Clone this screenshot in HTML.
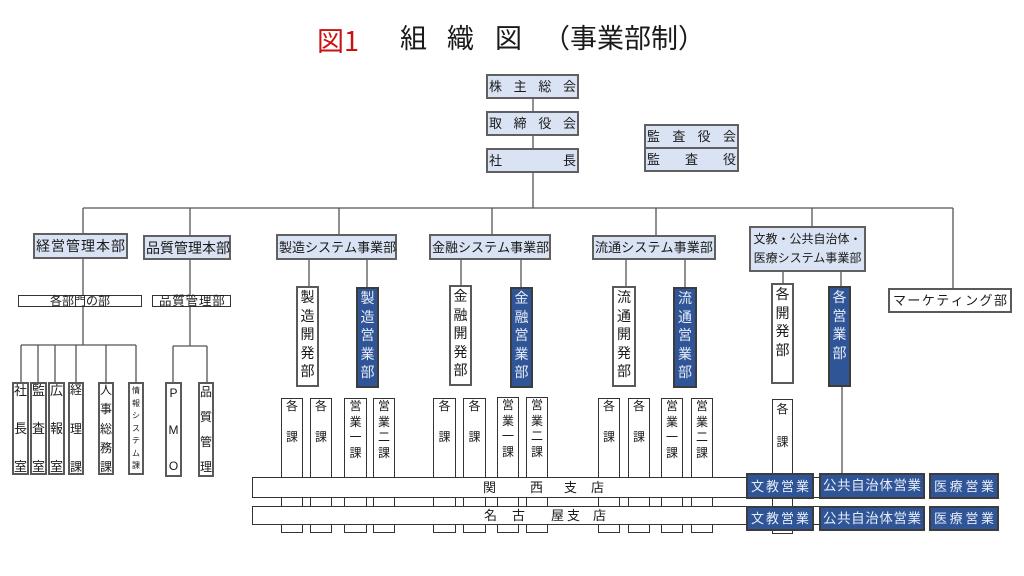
<!DOCTYPE html>
<html><head><meta charset="utf-8">
<style>
*{margin:0;padding:0}
body{width:1024px;height:576px;position:relative;overflow:hidden;background:#fff;font-family:"Liberation Sans","Noto Sans CJK JP",sans-serif;color:#1a1a1a}
.b{position:absolute;box-sizing:border-box}
.L{background:#dae3f3;border:2px solid #606060}
.W{background:#fff;border:2px solid #5a5a5a}
.T{background:#fff;border:1px solid #333}
.B{background:#2f5597;border:2px solid #3c3c3c;color:#e6ecf8}
.h{display:flex;justify-content:space-between;align-items:center;padding:0 1px;font-size:13px;line-height:1}
.v{display:flex;flex-direction:column;align-items:center;justify-content:space-between;font-size:13px;line-height:1;padding:0}
.s{display:flex;flex-direction:column;align-items:center;font-size:14px;line-height:18.6px}
.k{display:flex;flex-direction:column;align-items:center;font-size:12px;line-height:15.5px}
.t{position:absolute;font-size:27px;line-height:1;white-space:nowrap}
.c{position:absolute;font-size:13px;line-height:13px}
</style></head><body>

<div class="t" style="left:317px;top:26px;color:#cc1111">図<span style="font-family:'Noto Sans CJK JP',sans-serif">1</span></div>
<div class="t" style="left:400px;top:26px">組</div>
<div class="t" style="left:447px;top:26px">織</div>
<div class="t" style="left:495px;top:26px">図</div>
<div class="t" style="left:543px;top:26px">（事業部制）</div>

<svg class="b" style="left:0;top:0" width="1024" height="576">
<g stroke="#555" stroke-width="1.3" fill="none">
<path d="M533 99V111M533 136V148M533 173V208"/>
<path d="M83 208H953"/>
<path d="M83 208V233M190 208V235M339 208V234M492 208V234M656 208V235M812 208V226M953 208V288"/>
<path d="M83 259V345M21 345H136M21 345V382M38 345V382M55 345V382M76 345V382M106 345V382M136 345V382"/>
<path d="M190 260V346M173 346H207M173 346V382M207 346V382"/>
<path d="M309 260V286M367 260V287M461 260V285M521 260V287M626 260V286M685 260V287M783 272V283M841 272V286M842 387V473"/>
</g></svg>

<!-- top -->
<div class="b L h" style="left:486px;top:74px;width:93px;height:25px"><span>株</span><span>主</span><span>総</span><span>会</span></div>
<div class="b L h" style="left:486px;top:111px;width:93px;height:25px"><span>取</span><span>締</span><span>役</span><span>会</span></div>
<div class="b L h" style="left:486px;top:148px;width:93px;height:25px"><span>社</span><span>長</span></div>
<div class="b L h" style="left:644px;top:124px;width:95px;height:25px"><span>監</span><span>査</span><span>役</span><span>会</span></div>
<div class="b L h" style="left:644px;top:147px;width:95px;height:25px"><span>監</span><span>査</span><span>役</span></div>

<!-- divisions -->
<div class="b L h" style="left:33px;top:233px;width:95px;height:26px;font-size:14px"><span>経</span><span>営</span><span>管</span><span>理</span><span>本</span><span>部</span></div>
<div class="b L h" style="left:143px;top:235px;width:88px;height:25px;font-size:14px"><span>品</span><span>質</span><span>管</span><span>理</span><span>本</span><span>部</span></div>
<div class="b L h" style="left:276px;top:234px;width:121px;height:26px"><span>製</span><span>造</span><span>シ</span><span>ス</span><span>テ</span><span>ム</span><span>事</span><span>業</span><span>部</span></div>
<div class="b L h" style="left:429px;top:234px;width:122px;height:26px"><span>金</span><span>融</span><span>シ</span><span>ス</span><span>テ</span><span>ム</span><span>事</span><span>業</span><span>部</span></div>
<div class="b L h" style="left:592px;top:235px;width:124px;height:25px"><span>流</span><span>通</span><span>シ</span><span>ス</span><span>テ</span><span>ム</span><span>事</span><span>業</span><span>部</span></div>
<div class="b L" style="left:749px;top:226px;width:117px;height:46px;display:flex;flex-direction:column;align-items:center;justify-content:center;font-size:12px;line-height:19px;white-space:nowrap"><div>文教・公共自治体・</div><div>医療システム事業部</div></div>

<div class="b W h" style="left:888px;top:288px;width:124px;height:25px;padding:0 3px"><span>マ</span><span>ー</span><span>ケ</span><span>テ</span><span>ィ</span><span>ン</span><span>グ</span><span>部</span></div>

<!-- left sub -->
<div class="b T" style="left:18px;top:295px;width:124px;height:12px;display:flex;align-items:center;justify-content:center;font-size:12px;line-height:10px;white-space:nowrap">各部門の部</div>
<div class="b T" style="left:152px;top:295px;width:79px;height:12px;display:flex;align-items:center;padding-left:6px;font-size:12.5px;letter-spacing:0.8px;line-height:10px;white-space:nowrap">品質管理部</div>

<div class="b W v" style="left:12px;top:382px;width:17px;height:93px"><span>社</span><span>長</span><span>室</span></div>
<div class="b W v" style="left:30px;top:382px;width:17px;height:93px"><span>監</span><span>査</span><span>室</span></div>
<div class="b W v" style="left:48px;top:382px;width:17px;height:93px"><span>広</span><span>報</span><span>室</span></div>
<div class="b W v" style="left:68px;top:382px;width:16px;height:93px;font-size:12px"><span>経</span><span>理</span><span>課</span></div>
<div class="b W v" style="left:98px;top:382px;width:16px;height:93px;font-size:12px"><span>人</span><span>事</span><span>総</span><span>務</span><span>課</span></div>
<div class="b W v" style="left:128px;top:382px;width:16px;height:93px;font-size:8px;padding:3px 0"><span>情</span><span>報</span><span>シ</span><span>ス</span><span>テ</span><span>ム</span><span>課</span></div>
<div class="b W v" style="left:165px;top:382px;width:17px;height:95px;font-size:12px;padding:3px 0"><span>P</span><span>M</span><span>O</span></div>
<div class="b W v" style="left:198px;top:382px;width:16px;height:95px;font-size:12px;padding:2px 0"><span>品</span><span>質</span><span>管</span><span>理</span></div>

<!-- dev / sales -->
<div class="b W s" style="left:296px;top:286px;width:23px;height:101px"><span>製</span><span>造</span><span>開</span><span>発</span><span>部</span></div>
<div class="b B s" style="left:356px;top:287px;width:23px;height:101px"><span>製</span><span>造</span><span>営</span><span>業</span><span>部</span></div>
<div class="b W s" style="left:449px;top:285px;width:23px;height:101px"><span>金</span><span>融</span><span>開</span><span>発</span><span>部</span></div>
<div class="b B s" style="left:510px;top:287px;width:23px;height:101px"><span>金</span><span>融</span><span>営</span><span>業</span><span>部</span></div>
<div class="b W s" style="left:612px;top:286px;width:24px;height:101px"><span>流</span><span>通</span><span>開</span><span>発</span><span>部</span></div>
<div class="b B s" style="left:673px;top:287px;width:24px;height:101px"><span>流</span><span>通</span><span>営</span><span>業</span><span>部</span></div>
<div class="b W s" style="left:771px;top:283px;width:23px;height:101px"><span>各</span><span>開</span><span>発</span><span>部</span></div>
<div class="b B s" style="left:828px;top:286px;width:23px;height:101px"><span>各</span><span>営</span><span>業</span><span>部</span></div>

<!-- sections -->
<div class="b T k" style="left:281px;top:398px;width:22px;height:135px"><span>各</span><span>　</span><span>課</span></div>
<div class="b T k" style="left:310px;top:398px;width:22px;height:135px"><span>各</span><span>　</span><span>課</span></div>
<div class="b T k" style="left:344px;top:398px;width:23px;height:135px"><span>営</span><span>業</span><span>一</span><span>課</span></div>
<div class="b T k" style="left:373px;top:398px;width:22px;height:135px"><span>営</span><span>業</span><span>二</span><span>課</span></div>
<div class="b T k" style="left:433px;top:398px;width:23px;height:135px"><span>各</span><span>　</span><span>課</span></div>
<div class="b T k" style="left:463px;top:398px;width:23px;height:135px"><span>各</span><span>　</span><span>課</span></div>
<div class="b T k" style="left:497px;top:397px;width:22px;height:136px"><span>営</span><span>業</span><span>一</span><span>課</span></div>
<div class="b T k" style="left:526px;top:397px;width:22px;height:136px"><span>営</span><span>業</span><span>二</span><span>課</span></div>
<div class="b T k" style="left:598px;top:398px;width:22px;height:135px"><span>各</span><span>　</span><span>課</span></div>
<div class="b T k" style="left:628px;top:398px;width:22px;height:135px"><span>各</span><span>　</span><span>課</span></div>
<div class="b T k" style="left:661px;top:398px;width:22px;height:135px"><span>営</span><span>業</span><span>一</span><span>課</span></div>
<div class="b T k" style="left:691px;top:398px;width:22px;height:135px"><span>営</span><span>業</span><span>二</span><span>課</span></div>
<div class="b T k" style="left:772px;top:399px;width:21px;height:135px;line-height:16.5px;padding-top:1px"><span>各</span><span>　</span><span>課</span></div>

<!-- branch bars -->
<div class="b T" style="left:252px;top:477px;width:578px;height:21px"></div>
<div class="b T" style="left:252px;top:506px;width:588px;height:19px"></div>
<div class="c" style="left:483px;top:481px">関</div>
<div class="c" style="left:530px;top:481px">西</div>
<div class="c" style="left:564px;top:481px">支</div>
<div class="c" style="left:591px;top:481px">店</div>
<div class="c" style="left:484px;top:509px">名</div>
<div class="c" style="left:512px;top:509px">古</div>
<div class="c" style="left:551px;top:509px">屋</div>
<div class="c" style="left:567px;top:509px">支</div>
<div class="c" style="left:593px;top:509px">店</div>

<!-- blue sales boxes -->
<div class="b B h" style="left:746px;top:473px;width:68px;height:26px;font-size:13px;padding:0 3px"><span>文</span><span>教</span><span>営</span><span>業</span></div>
<div class="b B h" style="left:819px;top:473px;width:106px;height:26px;font-size:13.5px;padding:0 2px"><span>公</span><span>共</span><span>自</span><span>治</span><span>体</span><span>営</span><span>業</span></div>
<div class="b B h" style="left:929px;top:473px;width:70px;height:26px;font-size:13px;padding:0 3px"><span>医</span><span>療</span><span>営</span><span>業</span></div>
<div class="b B h" style="left:746px;top:506px;width:68px;height:25px;font-size:13px;padding:0 3px"><span>文</span><span>教</span><span>営</span><span>業</span></div>
<div class="b B h" style="left:819px;top:506px;width:106px;height:25px;font-size:13.5px;padding:0 2px"><span>公</span><span>共</span><span>自</span><span>治</span><span>体</span><span>営</span><span>業</span></div>
<div class="b B h" style="left:929px;top:506px;width:70px;height:25px;font-size:13px;padding:0 3px"><span>医</span><span>療</span><span>営</span><span>業</span></div>

</body></html>
